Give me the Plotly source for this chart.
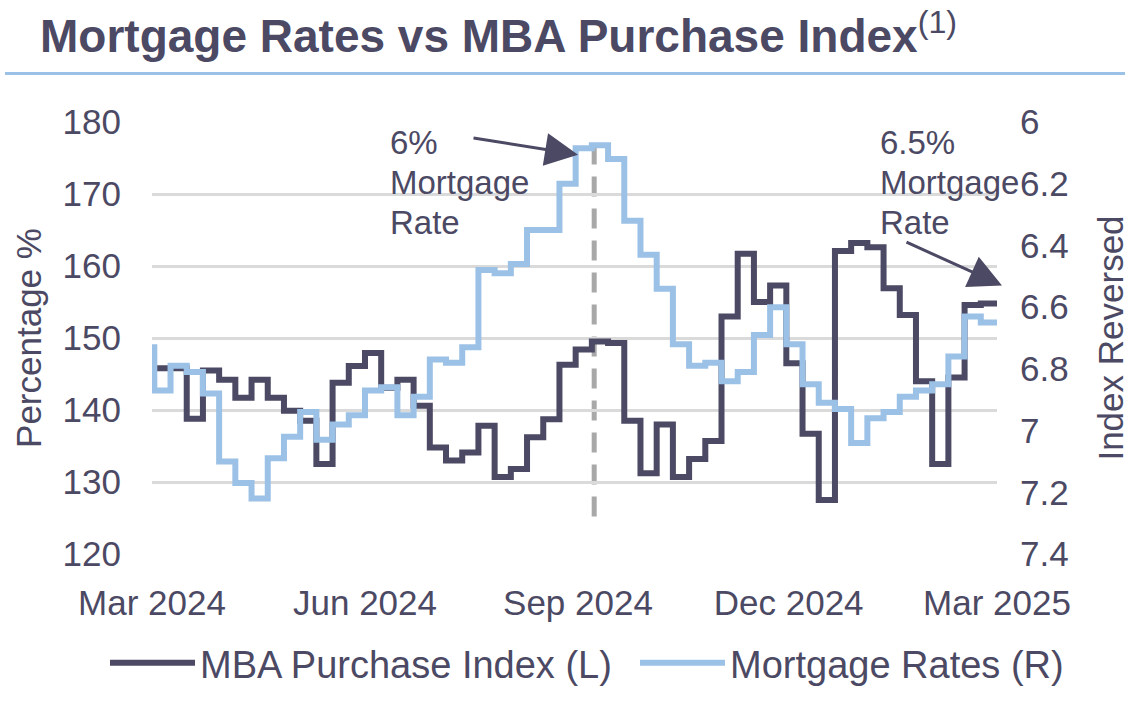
import pandas as pd
import plotly.graph_objects as go

# ---------------- data ----------------
week_start = "2024-03-02"
n_weeks = 52
end_date = "2025-03-01"

mba_index = [145.8, 145.8, 138.8, 145.5, 144.2, 141.7, 144.2, 141.7, 139.9, 138.5,
             132.5, 143.8, 146.1, 147.9, 143.1, 144.2, 140.6, 134.8, 133.0, 134.1,
             137.8, 130.7, 131.8, 136.2, 138.7, 146.3, 148.4, 149.5, 149.3, 138.5,
             131.2, 138.0, 130.7, 133.2, 135.7, 153.0, 161.7, 155.0, 157.3, 146.5,
             136.7, 127.5, 162.1, 163.2, 162.6, 156.9, 153.2, 144.0, 132.5, 144.5,
             154.6, 154.8]

mortgage_rates = [6.87, 6.79, 6.81, 6.88, 7.10, 7.17, 7.22, 7.09, 7.02, 6.94,
                  7.03, 6.98, 6.95, 6.87, 6.86, 6.95, 6.89, 6.77, 6.78, 6.73,
                  6.48, 6.49, 6.46, 6.35, 6.35, 6.20, 6.085, 6.075, 6.12, 6.32,
                  6.43, 6.54, 6.72, 6.79, 6.78, 6.84, 6.81, 6.69, 6.60, 6.72,
                  6.85, 6.91, 6.93, 7.04, 6.96, 6.94, 6.89, 6.87, 6.85, 6.76,
                  6.63, 6.65]
first_rate_date = "2024-03-01"
first_rate = 6.73

x_tick_dates = ["2024-03-01", "2024-06-01", "2024-09-01", "2024-12-01", "2025-03-01"]
left_ticks = [120, 130, 140, 150, 160, 170, 180]
right_ticks = [6.0, 6.2, 6.4, 6.6, 6.8, 7.0, 7.2, 7.4]

marker_date = "2024-09-08"
label_low = ["6%", "Mortgage", "Rate"]
label_now = ["6.5%", "Mortgage", "Rate"]

# ---------------- styles ----------------
DARK = "#4B4963"
LIGHT = "#9CC1E6"
GRID = "#DADADA"
TXT = "#4B4963"
FONT = "Liberation Sans, Arial, sans-serif"

dates = list(pd.date_range(week_start, periods=n_weeks, freq="7D"))
x_mba = dates + [pd.Timestamp(end_date)]
y_mba = mba_index + [mba_index[-1]]
x_rate = [pd.Timestamp(first_rate_date)] + dates + [pd.Timestamp(end_date)]
y_rate = [first_rate] + mortgage_rates + [mortgage_rates[-1]]

fig = go.Figure()
fig.add_trace(go.Scatter(x=x_mba, y=y_mba, mode="lines", line=dict(color=DARK, width=6, shape="hv"),
                         name="MBA Purchase Index (L)", yaxis="y", legend="legend"))
fig.add_trace(go.Scatter(x=x_rate, y=y_rate, mode="lines", line=dict(color=LIGHT, width=6, shape="hv"),
                         name="Mortgage Rates (R)", yaxis="y2", legend="legend2"))

W, H = 1144, 706
L, R, T, B = 152, 147, 122, 148
pw, ph = W - L - R, H - T - B


def px_x(px):
    return (px - L) / pw


def px_y(py):
    return (H - B - py) / ph


legend_style = dict(orientation="h", xanchor="left", y=px_y(668), yanchor="middle",
                    font=dict(size=38, color=TXT, family=FONT), bgcolor="rgba(0,0,0,0)",
                    itemwidth=85)

fig.update_layout(
    width=W, height=H, autosize=False,
    margin=dict(l=L, r=R, t=T, b=B, pad=0),
    paper_bgcolor="white", plot_bgcolor="white",
    font=dict(family=FONT, color=TXT, size=35),
    title=dict(text="<b>Mortgage Rates vs MBA Purchase Index</b><sup>(1)</sup>",
               x=40 / W, xanchor="left", xref="container",
               y=1 - 36 / H, yanchor="middle", yref="container",
               font=dict(family=FONT, size=46, color=TXT)),
    xaxis=dict(type="date", range=["2024-03-01", end_date], tickvals=x_tick_dates,
               tickformat="%b %Y", showgrid=False, zeroline=False, showline=False,
               ticks="", ticklabelstandoff=25, tickfont=dict(size=35, color=TXT)),
    yaxis=dict(range=[120, 180], tickvals=left_ticks, showgrid=True, gridcolor=GRID, gridwidth=3,
               zeroline=False, showline=False, ticks="", ticklabelstandoff=30,
               tickfont=dict(size=35, color=TXT),
               title=dict(text="Percentage %", font=dict(size=35, color=TXT), standoff=10)),
    yaxis2=dict(range=[7.4, 6.0], tickvals=right_ticks, overlaying="y", side="right",
                showgrid=False, zeroline=False, showline=False, ticks="", ticklabelstandoff=22,
                tickfont=dict(size=35, color=TXT),
                title=dict(text="Index Reversed", font=dict(size=35, color=TXT), standoff=30)),
    legend=dict(x=px_x(105), **legend_style),
    legend2=dict(x=px_x(635), **legend_style),
    showlegend=True,
)

# title underline
fig.add_shape(type="line", xref="paper", yref="paper",
              x0=px_x(5), x1=px_x(1125), y0=px_y(73), y1=px_y(73),
              line=dict(color=LIGHT, width=3))

# dashed marker line at the 6% low
fig.add_shape(type="line", xref="x", yref="y", x0=marker_date, x1=marker_date, y0=125.2, y1=176.4,
              line=dict(color="#A8A8A8", width=5, dash="20px,12px"), layer="below")

for i, t in enumerate(label_low):
    fig.add_annotation(text=t, xref="paper", yref="paper", x=px_x(388), y=px_y(143 + 40 * i),
                       xanchor="left", yanchor="middle", showarrow=False,
                       font=dict(size=33, color=TXT, family=FONT))
for i, t in enumerate(label_now):
    fig.add_annotation(text=t, xref="paper", yref="paper", x=px_x(878), y=px_y(143 + 40 * i),
                       xanchor="left", yanchor="middle", showarrow=False,
                       font=dict(size=33, color=TXT, family=FONT))

# arrows
fig.add_annotation(text="", xref="paper", yref="paper", x=px_x(578), y=px_y(155),
                   ax=-106, ay=-17, axref="pixel", ayref="pixel", showarrow=True,
                   arrowhead=2, arrowsize=2.2, arrowwidth=3, arrowcolor=DARK, standoff=0)
fig.add_annotation(text="", xref="paper", yref="paper", x=px_x(1002), y=px_y(287),
                   ax=-97, ay=-44, axref="pixel", ayref="pixel", showarrow=True,
                   arrowhead=2, arrowsize=2.2, arrowwidth=3, arrowcolor=DARK, standoff=0)

fig.write_html("out.html", config={"displayModeBar": False},
               post_script="document.body.style.margin='0';")
